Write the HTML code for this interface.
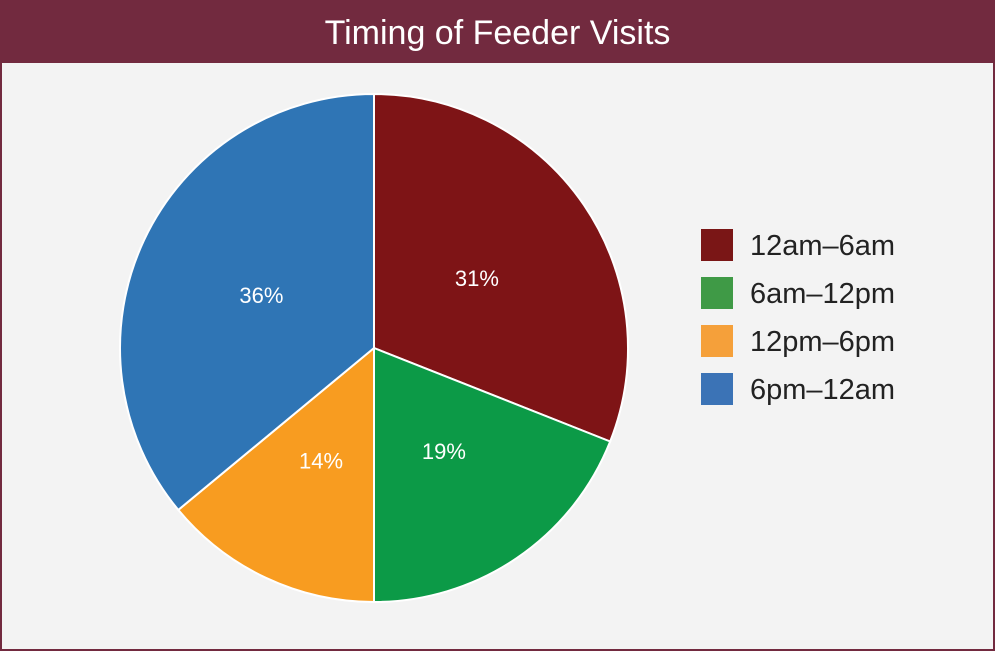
<!DOCTYPE html>
<html><head><meta charset="utf-8"><style>
body{margin:0;width:995px;height:651px;overflow:hidden;font-family:"Liberation Sans Narrow","Liberation Sans",sans-serif}
#wrap{position:absolute;left:0;top:0;width:991px;height:647px;border:2px solid #722a3f;background:#f3f3f3}
#hdr{position:absolute;left:0;top:0;width:991px;height:61px;background:#722a3f;color:#fff;font-family:"Liberation Sans",sans-serif;font-size:34px;text-align:center;line-height:62px}
</style></head><body>
<div id="wrap">
<div id="hdr">Timing of Feeder Visits</div>
</div>
<svg id="svg" width="995" height="651" style="position:absolute;left:0;top:0"></svg>
<script>
const categories=["12am–6am","6am–12pm","12pm–6pm","6pm–12am"];
const values=[31,19,14,36];
const labels=["31%","19%","14%","36%"];
const sliceColors=["#7e1416","#0c9a47","#f89c20","#2f75b5"];
const legendColors=["#7a1616","#3f9a46","#f5a03a","#3b73b6"];
const svg=document.getElementById('svg');const NS='http://www.w3.org/2000/svg';
const cx=374,cy=348,R=254;
const total=values.reduce((a,b)=>a+b,0);
let a=0;
function pt(ang,r){return [cx+r*Math.sin(ang),cy-r*Math.cos(ang)];}
values.forEach((v,i)=>{
 const a0=a,a1=a+v/total*2*Math.PI;a=a1;
 const p0=pt(a0,R),p1=pt(a1,R);
 const path=document.createElementNS(NS,'path');
 path.setAttribute('d',`M${cx},${cy}L${p0[0]},${p0[1]}A${R},${R} 0 ${a1-a0>Math.PI?1:0} 1 ${p1[0]},${p1[1]}Z`);
 path.setAttribute('fill',sliceColors[i]);path.setAttribute('stroke','#fff');path.setAttribute('stroke-width','2');
 
 
 svg.appendChild(path);
 const lp=pt((a0+a1)/2,R*0.49);
 const t=document.createElementNS(NS,'text');
 t.setAttribute('x',lp[0]);t.setAttribute('y',lp[1]+8);t.setAttribute('text-anchor','middle');
 t.setAttribute('fill','#fff');t.setAttribute('font-size','22');t.setAttribute('font-family','Liberation Sans Narrow, Liberation Sans, sans-serif');
 t.textContent=labels[i];
 
 
 svg.appendChild(t);
});
categories.forEach((c,i)=>{
 const g=document.createElementNS(NS,'g');
 
 
 const y=229+i*48;
 const r=document.createElementNS(NS,'rect');
 r.setAttribute('x',701);r.setAttribute('y',y);r.setAttribute('width',32);r.setAttribute('height',32);r.setAttribute('fill',legendColors[i]);
 g.appendChild(r);
 const t=document.createElementNS(NS,'text');
 t.setAttribute('x',750);t.setAttribute('y',y+26);t.setAttribute('font-size','29');t.setAttribute('fill','#222');
 t.setAttribute('font-family','Liberation Sans Narrow, Liberation Sans, sans-serif');
 t.textContent=c;g.appendChild(t);svg.appendChild(g);
});
</script>
</body></html>
